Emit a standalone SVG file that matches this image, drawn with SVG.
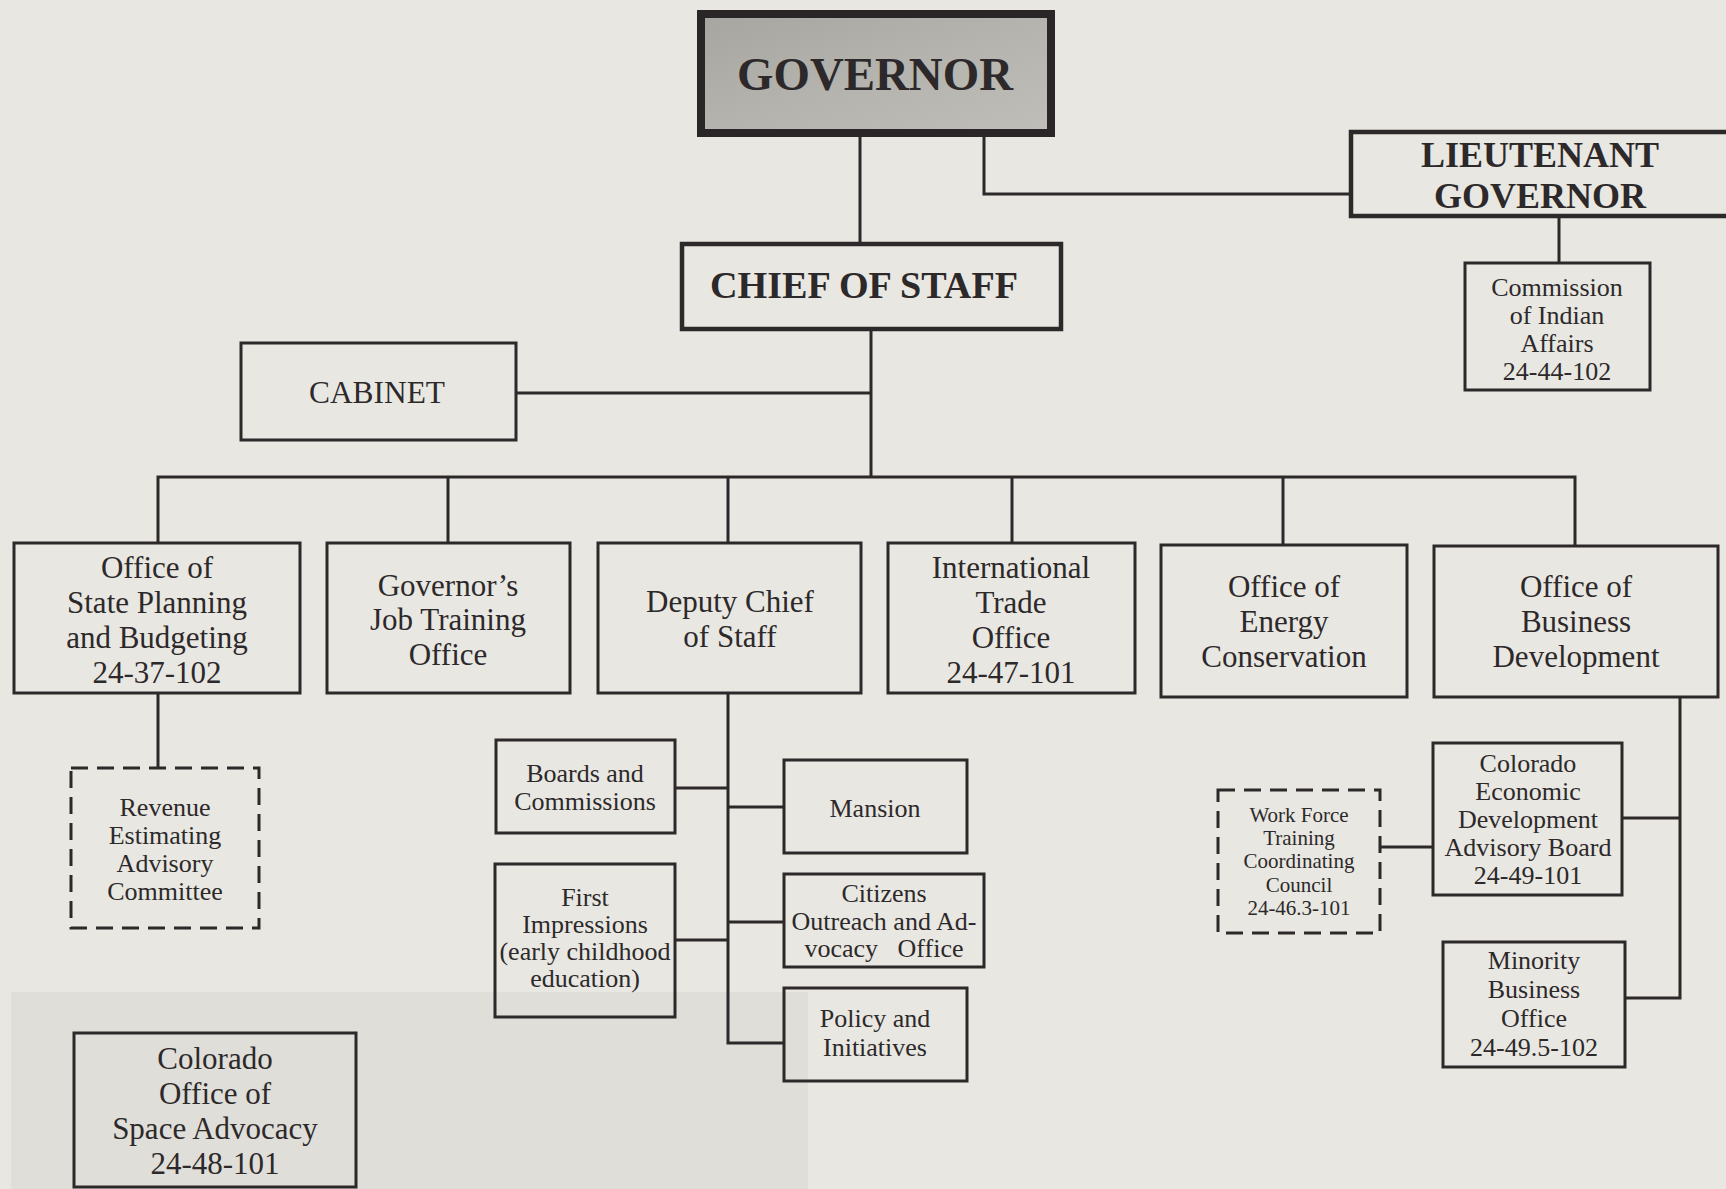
<svg xmlns="http://www.w3.org/2000/svg" width="1726" height="1189" viewBox="0 0 1726 1189">
<defs>
<style>
.bg{fill:#e8e7e1}
.box{fill:none;stroke:#2d292b;stroke-width:3}
.thick{stroke-width:4.5}
.dash{stroke-dasharray:17 9}
.conn{fill:none;stroke:#2d292b;stroke-width:3}
.t{font-family:"Liberation Serif","Times New Roman",serif;fill:#2d292b;text-anchor:middle}
.b{font-weight:bold}
.f21{font-size:21px}
.f26{font-size:26px}
.f31{font-size:31px}
</style>
<linearGradient id="govfill" x1="0" y1="0" x2="1" y2="1">
<stop offset="0" stop-color="#a6a5a0"/>
<stop offset="0.5" stop-color="#b4b3ae"/>
<stop offset="1" stop-color="#bfbeb9"/>
</linearGradient>
</defs>
<rect class="bg" x="0" y="0" width="1726" height="1189"/>
<rect x="11" y="992" width="797" height="197" fill="#dfded8"/>

<g id="connectors">
<path class="conn" d="M860 137V242"/>
<path class="conn" d="M984 137V194H1349"/>
<path class="conn" d="M1559 218V263"/>
<path class="conn" d="M871 330V477"/>
<path class="conn" d="M516 393H871"/>
<path class="conn" d="M158 543V477H1575V546"/>
<path class="conn" d="M448 477V543"/>
<path class="conn" d="M728 477V543"/>
<path class="conn" d="M1012 477V543"/>
<path class="conn" d="M1283 477V545"/>
<path class="conn" d="M158 693V768"/>
<path class="conn" d="M728 693V1043H784"/>
<path class="conn" d="M675 788H728"/>
<path class="conn" d="M728 807H784"/>
<path class="conn" d="M675 940H728"/>
<path class="conn" d="M728 922H784"/>
<path class="conn" d="M1680 697V998H1625"/>
<path class="conn" d="M1622 818H1680"/>
<path class="conn" d="M1380 847H1433"/>
</g>

<g id="governor">
<rect x="701" y="14" width="350" height="119" fill="url(#govfill)" stroke="#2a2628" stroke-width="8"/>
<text class="t b" x="875" y="90" font-size="46" textLength="276" lengthAdjust="spacingAndGlyphs">GOVERNOR</text>
</g>

<g id="lieutenant-governor">
<rect class="box thick" x="1351" y="132" width="385" height="84"/>
<text class="t b" x="1540" y="167" font-size="36">LIEUTENANT</text>
<text class="t b" x="1540" y="208" font-size="36">GOVERNOR</text>
</g>

<g id="commission-indian-affairs">
<rect class="box" x="1465" y="263" width="185" height="127"/>
<text class="t f26" x="1557" y="296">Commission</text>
<text class="t f26" x="1557" y="324">of Indian</text>
<text class="t f26" x="1557" y="352">Affairs</text>
<text class="t f26" x="1557" y="380">24-44-102</text>
</g>

<g id="chief-of-staff">
<rect class="box thick" x="682" y="244" width="379" height="85"/>
<text class="t b" x="864" y="298" font-size="37" textLength="308" lengthAdjust="spacingAndGlyphs">CHIEF OF STAFF</text>
</g>

<g id="cabinet">
<rect class="box" x="241" y="343" width="275" height="97"/>
<text class="t" x="377" y="403" font-size="32" textLength="136" lengthAdjust="spacingAndGlyphs">CABINET</text>
</g>

<g id="state-planning">
<rect class="box" x="14" y="543" width="286" height="150"/>
<text class="t f31" x="157" y="578">Office of</text>
<text class="t f31" x="157" y="613">State Planning</text>
<text class="t f31" x="157" y="648">and Budgeting</text>
<text class="t f31" x="157" y="683">24-37-102</text>
</g>

<g id="job-training">
<rect class="box" x="327" y="543" width="243" height="150"/>
<text class="t f31" x="448" y="596">Governor’s</text>
<text class="t f31" x="448" y="630">Job Training</text>
<text class="t f31" x="448" y="665">Office</text>
</g>

<g id="deputy-chief">
<rect class="box" x="598" y="543" width="263" height="150"/>
<text class="t f31" x="730" y="612">Deputy Chief</text>
<text class="t f31" x="730" y="647">of Staff</text>
</g>

<g id="international-trade">
<rect class="box" x="888" y="543" width="247" height="150"/>
<text class="t f31" x="1011" y="578">International</text>
<text class="t f31" x="1011" y="613">Trade</text>
<text class="t f31" x="1011" y="648">Office</text>
<text class="t f31" x="1011" y="683">24-47-101</text>
</g>

<g id="energy-conservation">
<rect class="box" x="1161" y="545" width="246" height="152"/>
<text class="t f31" x="1284" y="597">Office of</text>
<text class="t f31" x="1284" y="632">Energy</text>
<text class="t f31" x="1284" y="667">Conservation</text>
</g>

<g id="business-development">
<rect class="box" x="1434" y="546" width="284" height="151"/>
<text class="t f31" x="1576" y="597">Office of</text>
<text class="t f31" x="1576" y="632">Business</text>
<text class="t f31" x="1576" y="667">Development</text>
</g>

<g id="revenue-estimating">
<rect class="box dash" x="71" y="768" width="188" height="160"/>
<text class="t f26" x="165" y="816">Revenue</text>
<text class="t f26" x="165" y="844">Estimating</text>
<text class="t f26" x="165" y="872">Advisory</text>
<text class="t f26" x="165" y="900">Committee</text>
</g>

<g id="boards-commissions">
<rect class="box" x="496" y="740" width="179" height="93"/>
<text class="t f26" x="585" y="782">Boards and</text>
<text class="t f26" x="585" y="810">Commissions</text>
</g>

<g id="first-impressions">
<rect class="box" x="495" y="864" width="180" height="153"/>
<text class="t f26" x="585" y="906">First</text>
<text class="t f26" x="585" y="933">Impressions</text>
<text class="t f26" x="585" y="960">(early childhood</text>
<text class="t f26" x="585" y="987">education)</text>
</g>

<g id="mansion">
<rect class="box" x="784" y="760" width="183" height="93"/>
<text class="t f26" x="875" y="817">Mansion</text>
</g>

<g id="citizens-outreach">
<rect class="box" x="784" y="874" width="200" height="93"/>
<text class="t f26" x="884" y="902">Citizens</text>
<text class="t f26" x="884" y="930">Outreach and Ad-</text>
<text class="t f26" x="884" y="957" xml:space="preserve">vocacy   Office</text>
</g>

<g id="policy-initiatives">
<rect class="box" x="784" y="988" width="183" height="93"/>
<text class="t f26" x="875" y="1027">Policy and</text>
<text class="t f26" x="875" y="1056">Initiatives</text>
</g>

<g id="space-advocacy">
<rect class="box" x="74" y="1033" width="282" height="154"/>
<text class="t f31" x="215" y="1069">Colorado</text>
<text class="t f31" x="215" y="1104">Office of</text>
<text class="t f31" x="215" y="1139">Space Advocacy</text>
<text class="t f31" x="215" y="1174">24-48-101</text>
</g>

<g id="work-force">
<rect class="box dash" x="1218" y="790" width="162" height="143"/>
<text class="t f21" x="1299" y="822">Work Force</text>
<text class="t f21" x="1299" y="845">Training</text>
<text class="t f21" x="1299" y="868">Coordinating</text>
<text class="t f21" x="1299" y="892">Council</text>
<text class="t f21" x="1299" y="915">24-46.3-101</text>
</g>

<g id="economic-advisory">
<rect class="box" x="1433" y="743" width="189" height="152"/>
<text class="t f26" x="1528" y="772">Colorado</text>
<text class="t f26" x="1528" y="800">Economic</text>
<text class="t f26" x="1528" y="828">Development</text>
<text class="t f26" x="1528" y="856">Advisory Board</text>
<text class="t f26" x="1528" y="884">24-49-101</text>
</g>

<g id="minority-business">
<rect class="box" x="1443" y="942" width="182" height="125"/>
<text class="t f26" x="1534" y="969">Minority</text>
<text class="t f26" x="1534" y="998">Business</text>
<text class="t f26" x="1534" y="1027">Office</text>
<text class="t f26" x="1534" y="1056">24-49.5-102</text>
</g>
</svg>
